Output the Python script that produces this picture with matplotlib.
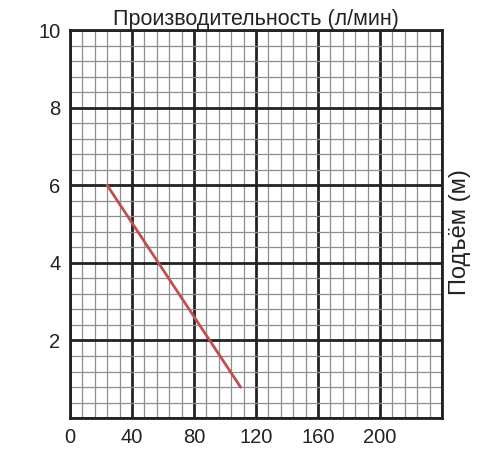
import matplotlib
matplotlib.use("Agg")
import matplotlib.pyplot as plt
import numpy as np

plt.rcParams['font.family'] = ['Liberation Sans', 'DejaVu Sans']

flow = [24, 110]          # л/мин
head = [6.0, 0.8]         # м
x_ticks = [0, 40, 80, 120, 160, 200]
y_ticks = [2, 4, 6, 8, 10]
x_max, y_max = 240, 10

fig = plt.figure(figsize=(5, 4.5), dpi=100)
ax = fig.add_axes([0.14, 0.071, 0.744, 0.862])
ax.set_xlim(0, x_max)
ax.set_ylim(0, y_max)

ax.set_xticks(np.arange(0, x_max + 1, 40))
ax.set_xticklabels([str(t) if t in x_ticks else '' for t in np.arange(0, x_max + 1, 40)])
ax.set_yticks(np.arange(0, y_max + 0.01, 2))
ax.set_yticklabels([str(int(t)) if int(t) in y_ticks else '' for t in np.arange(0, y_max + 0.01, 2)])
ax.set_xticks(np.arange(0, x_max + 1, 8), minor=True)
ax.set_yticks(np.arange(0, y_max + 0.01, 0.4), minor=True)

ax.grid(which='minor', color='#8f8f8f', linewidth=0.9)
ax.grid(which='major', color='#222222', linewidth=2.0)
ax.set_axisbelow(True)
ax.tick_params(which='both', length=0, labelsize=14.5, colors='#222222', pad=7)
for s in ax.spines.values():
    s.set_linewidth(2.0)
    s.set_color('#222222')

ax.plot(flow, head, color='#c0504d', linewidth=2.0, zorder=3)

ax.set_title('Производительность (л/мин)', fontsize=15.5, color='#222222', pad=4)
ax.yaxis.set_label_position('right')
ax.set_ylabel('Подъём (м)', fontsize=17, color='#222222')
ax.yaxis.set_label_coords(1.018, 0.48)

fig.savefig('out.png', dpi=100)
